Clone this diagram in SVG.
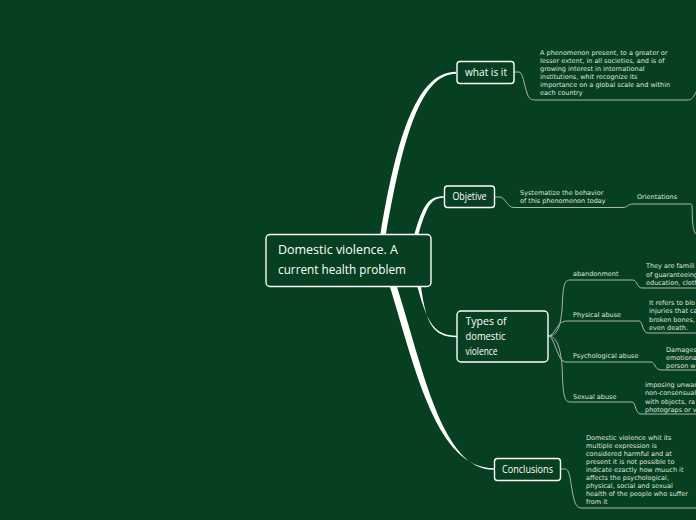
<svg xmlns="http://www.w3.org/2000/svg" width="696" height="520" viewBox="0 0 696 520">
<style>
.node rect{fill:#073f21;stroke:#ffffff;stroke-width:1.4}
.nt{font-family:"Open Sans","DejaVu Sans",sans-serif;font-size:11px;fill:#ffffff}
.ct{font-size:12px}
.st{font-family:"DejaVu Sans",sans-serif;font-size:6.5px;fill:#dfe5df}
.thin{fill:none;stroke:#aab8ab;stroke-width:1}
.thick{fill:#ffffff;stroke:none}
</style>
<rect x="0" y="0" width="696" height="520" fill="#073f21"/>
<g id="connectors">
<path class="thick" d="M380.5,234 C395,148 414,71.8 456,71.8 L456,73.8 C418,73.8 401,150 386,234 Z"/>
<path class="thick" d="M414.5,234 C423,205 428,196.2 444,196.2 L444,197.8 C431,197.8 427,206 418.5,234 Z"/>
<path class="thick" d="M417.5,287 C427,322 434,335.7 457,335.7 L457,337.3 C432,337.3 426,322 421,287 Z"/>
<path class="thick" d="M390,287 C416,372 437,468.2 494,468.2 L494,469.8 C442,469.8 424,372 397,287 Z"/>
<path class="thin" d="M514,72 L519,72 C523,72 524,85 527,93 C529,99 531,100 536,100 L688,100 C692,100 694,96 696,92"/>
<path class="thin" d="M495,197 L500,197 C505,197 507,207.5 514,207.5 L623,207.5 C628,207.5 627,204 634,204 L691,204 C692.5,204 692,212 692.5,220 C693,228 694,232 696,234"/>
<path class="thin" d="M548,336 C556,336 560,330 562,310 C563,290 563,280 570,280 L633,280 C637,280 637,288 642,288 L696,288"/>
<path class="thin" d="M548,336 C555,336 557,321 566,321 L639,321 C643,321 642,333 648,333 L696,333"/>
<path class="thin" d="M548,336 C555,336 557,362 566,362 L651,362 C655,362 655,370 661,370 L696,370"/>
<path class="thin" d="M548,336 C556,336 560,345 562,365 C563,390 563,402 570,402 L632,402 C636,402 635,414 641,414 L696,414"/>
<path class="thin" d="M560,469 L565,469 C570,469 570,480 573,495 C575,505 577,508 582,508 L696,508"/>
</g>
<g id="central" class="node">
<rect x="266" y="234.5" width="165" height="52" rx="4"/>
<text class="nt ct" x="278" y="254" textLength="120" lengthAdjust="spacingAndGlyphs">Domestic violence. A</text>
<text class="nt ct" x="278" y="273.5" textLength="128" lengthAdjust="spacingAndGlyphs">current health problem</text>
</g>
<g id="what-is-it" class="node">
<rect x="457" y="61.5" width="57" height="22" rx="3"/>
<text class="nt" x="465" y="75.5" textLength="42" lengthAdjust="spacingAndGlyphs">what is it</text>
</g>
<g id="what-is-it-detail">
<text class="st" x="540" y="55">A phenomenon present, to a greater or</text>
<text class="st" x="540" y="63">lesser extent, in all societies, and is of</text>
<text class="st" x="540" y="71">growing interest in international</text>
<text class="st" x="540" y="79">institutions, whit recognize its</text>
<text class="st" x="540" y="87">importance on a global scale and within</text>
<text class="st" x="540" y="95">each country</text>
</g>
<g id="objetive" class="node">
<rect x="444.5" y="186" width="50" height="21.5" rx="3"/>
<text class="nt" x="452.5" y="200" textLength="34" lengthAdjust="spacingAndGlyphs">Objetive</text>
</g>
<g id="objetive-detail">
<text class="st" x="520" y="195">Systematize the behavior</text>
<text class="st" x="520" y="203.3">of this phenomenon today</text>
</g>
<g id="orientations">
<text class="st" x="637" y="199.3">Orientations</text>
</g>
<g id="types" class="node">
<rect x="457" y="311" width="91" height="51" rx="4"/>
<text class="nt" x="465.5" y="324.5" textLength="41" lengthAdjust="spacingAndGlyphs">Types of</text>
<text class="nt" x="465.5" y="339.5" textLength="40" lengthAdjust="spacingAndGlyphs">domestic</text>
<text class="nt" x="465.5" y="354.5" textLength="32" lengthAdjust="spacingAndGlyphs">violence</text>
</g>
<g id="abandonment">
<text class="st" x="573" y="276">abandonment</text>
<text class="st" x="646" y="268.3">They are famili</text>
<text class="st" x="646" y="276.6">of guaranteeing</text>
<text class="st" x="646" y="284.9">education, cloth</text>
</g>
<g id="physical">
<text class="st" x="573" y="317">Physical abuse</text>
<text class="st" x="649" y="305">It refers to blo</text>
<text class="st" x="649" y="313.3">injuries that ca</text>
<text class="st" x="649" y="321.6">broken bones,</text>
<text class="st" x="649" y="329.9">even death.</text>
</g>
<g id="psychological">
<text class="st" x="573" y="358">Psychological abuse</text>
<text class="st" x="666" y="351.5">Damages</text>
<text class="st" x="666" y="359.8">emotiona</text>
<text class="st" x="666" y="368.1">person w</text>
</g>
<g id="sexual">
<text class="st" x="573" y="399">Sexual abuse</text>
<text class="st" x="645" y="387">imposing unwan</text>
<text class="st" x="645" y="395.3">non-consensual</text>
<text class="st" x="645" y="403.6">with objects, ra</text>
<text class="st" x="645" y="411.9">photograps or v</text>
</g>
<g id="conclusions" class="node">
<rect x="494.5" y="458.5" width="66" height="22" rx="3"/>
<text class="nt" x="502" y="473" textLength="51" lengthAdjust="spacingAndGlyphs">Conclusions</text>
</g>
<g id="conclusions-detail">
<text class="st" x="586" y="440">Domestic violence whit its</text>
<text class="st" x="586" y="448">multiple expression is</text>
<text class="st" x="586" y="456">considered harmful and at</text>
<text class="st" x="586" y="464">present it is not possible to</text>
<text class="st" x="586" y="472">indicate ezactly how muuch it</text>
<text class="st" x="586" y="480">affects the psychological,</text>
<text class="st" x="586" y="488">physical, social and sexual</text>
<text class="st" x="586" y="496">health of the people who suffer</text>
<text class="st" x="586" y="504">from it</text>
</g>
</svg>
